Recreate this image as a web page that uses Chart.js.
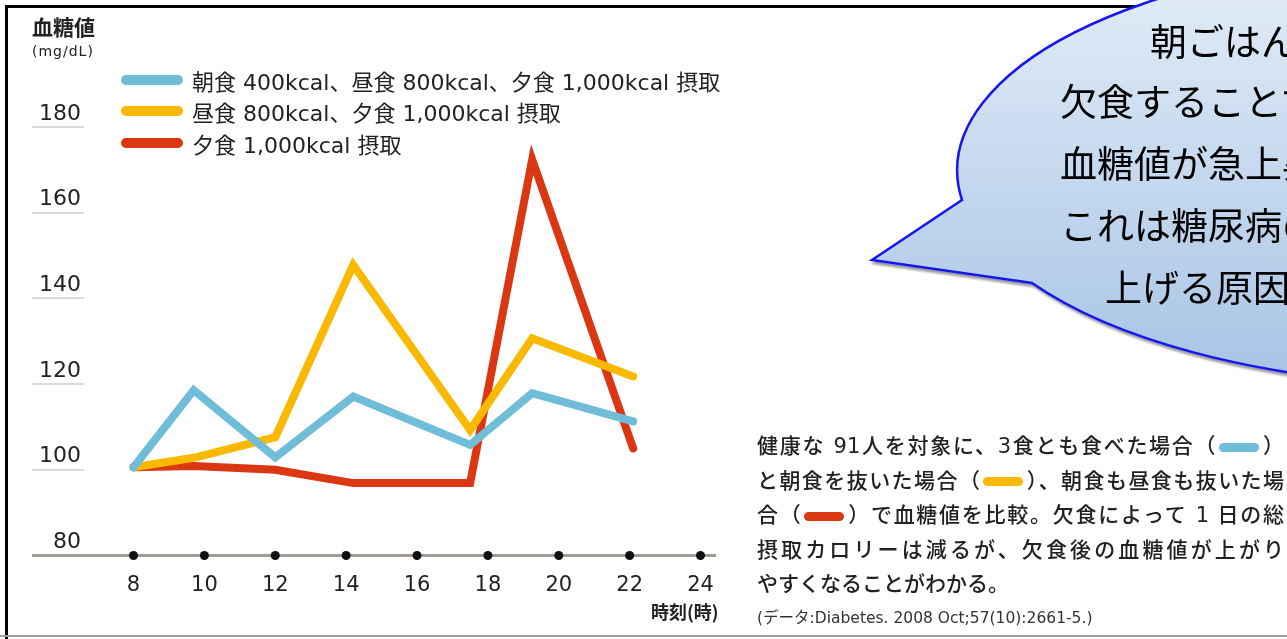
<!DOCTYPE html>
<html lang="ja">
<head>
<meta charset="utf-8">
<title>血糖値の推移</title>
<script src="https://cdn.jsdelivr.net/npm/chart.js@4.4.1/dist/chart.umd.min.js"></script>
<style>
    html, body { margin: 0; padding: 0; background: #fff; }
    body { width: 1287px; height: 639px; position: relative; overflow: hidden;
        font-family: 'DejaVu Sans', 'Noto Sans CJK JP', sans-serif; color: #222; }
    .frame { position: absolute; left: 5px; top: 5px; width: 1400px; height: 640px;
        border-left: 3px solid #000; border-top: 3px solid #000; }
    .bottom-line { position: absolute; left: 0; top: 635px; width: 1287px; height: 2px; background: #a0a0a0; }
    #chart { position: absolute; left: 0; top: 0; }
    .ytitle { position: absolute; left: 32px; top: 14px; font-size: 21px; line-height: 1.2; font-weight: bold; font-family: 'Noto Sans CJK JP', sans-serif; }
    .yunit { position: absolute; left: 32px; top: 43px; font-size: 14px; letter-spacing: 1px; }
    .xtitle { position: absolute; left: 651px; top: 598px; font-size: 18px; font-weight: bold; font-family: 'Noto Sans CJK JP', sans-serif; }
    #legend { position: absolute; left: 121px; top: 64px; }
    #legend .row { height: 31.5px; display: flex; align-items: center; font-size: 22px; white-space: nowrap; }
    #legend .sw { width: 62px; height: 10px; border-radius: 5px; margin-right: 9px; }
    .note { position: absolute; left: 757px; top: 429px; width: 527px; font-size: 21px; font-weight: 500; }
    .note .ln { height: 34.5px; line-height: 34.5px; white-space: nowrap; text-align: justify; text-align-last: justify; }
    .note .ln.last { text-align-last: left; }
    .note .pill { display: inline-block; width: 40px; height: 9px; border-radius: 5px; vertical-align: middle; margin: 0 2px; }
    .src { position: absolute; left: 757px; top: 605px; font-size: 15.5px; color: #333; white-space: nowrap; }
    svg.bubble { position: absolute; left: 0; top: 0; }
    .bt { position: absolute; font-family: 'Noto Sans CJK JP', sans-serif; font-size: 37px; color: #000; white-space: nowrap; line-height: 1; }
</style>
</head>
<body>
<div class="frame"></div>
<div class="bottom-line"></div>
<canvas id="chart" width="1287" height="639"></canvas>

<div class="ytitle">血糖値</div>
<div class="yunit">(mg/dL)</div>
<div class="xtitle">時刻(時)</div>
<div id="legend"></div>

<div class="note" id="note"></div>
<div class="src">(データ:Diabetes. 2008 Oct;57(10):2661-5.)</div>

<svg class="bubble" width="1287" height="639">
    <defs>
        <linearGradient id="bg" x1="0" y1="-45" x2="0" y2="385" gradientUnits="userSpaceOnUse">
            <stop offset="0" stop-color="#e6eef8"/>
            <stop offset="1" stop-color="#a6c4e5"/>
        </linearGradient>
        <filter id="sh" x="-10%" y="-10%" width="130%" height="130%">
            <feDropShadow dx="2" dy="3" stdDeviation="1" flood-color="#555" flood-opacity="0.6"/>
        </filter>
    </defs>
    <path d="M 962 200 L 872 260 L 1032 283 A 505 215 0 1 0 962 200 Z"
          fill="url(#bg)" stroke="#1414ee" stroke-width="2.5" filter="url(#sh)"/>
</svg>
<div class="bt" style="left:1150px; top:22px;">朝ごはんを</div>
<div class="bt" style="left:1060px; top:82px;">欠食することで</div>
<div class="bt" style="left:1060px; top:144px;">血糖値が急上昇</div>
<div class="bt" style="left:1060px; top:206px;">これは糖尿病の</div>
<div class="bt" style="left:1105px; top:268px;">上げる原因に</div>

<script>
// 時刻 (時) と血糖値 (mg/dL)
const hours = [8, 9.7, 12, 14.2, 17.5, 19.25, 22.1]
const threeMeals = [100.6, 118.6, 102.9, 117.1, 105.8, 117.9, 111.3]
const skipBreakfast = [100.6, 102.8, 107.6, 147.8, 109.3, 130.7, 121.8]
const dinnerOnly = [100.6, 100.9, 100.0, 96.9, 96.9, 172.4, 105.0]

const seriesNames = [
    '朝食 400kcal、昼食 800kcal、夕食 1,000kcal 摂取',
    '昼食 800kcal、夕食 1,000kcal 摂取',
    '夕食 1,000kcal 摂取',
]
const seriesColors = ['#70bdd9', '#f9b900', '#da3712']

const xTicks = [8, 10, 12, 14, 16, 18, 20, 22, 24]
const yTicks = [80, 100, 120, 140, 160, 180]

// ##### legend #####
const legend = document.getElementById('legend')
seriesNames.forEach((name, i) => {
    const row = document.createElement('div')
    row.className = 'row'
    row.innerHTML = `<div class="sw" style="background:${seriesColors[i]}"></div><span>${name}</span>`
    legend.appendChild(row)
})

// ##### note text #####
const pill = (i) => `<span class="pill" style="background:${seriesColors[i]}"></span>`
const noteLines = [
    `健康な 91人を対象に、3食とも食べた場合（${pill(0)}）`,
    `と朝食を抜いた場合（${pill(1)}）、朝食も昼食も抜いた場`,
    `合（${pill(2)}）で血糖値を比較。欠食によって 1 日の総`,
    `摂取カロリーは減るが、欠食後の血糖値が上がり`,
    `やすくなることがわかる。`,
]
const note = document.getElementById('note')
noteLines.forEach((txt, i) => {
    const d = document.createElement('div')
    d.className = 'ln' + (i === noteLines.length - 1 ? ' last' : '')
    d.innerHTML = txt
    note.appendChild(d)
})

// ##### chart #####
const toPoints = (values) => hours.map((h, i) => ({ x: h, y: values[i] }))
const seriesData = [threeMeals, skipBreakfast, dinnerOnly]

const datasets = seriesData.map((values, i) => ({
    label: seriesNames[i],
    data: toPoints(values),
    borderColor: seriesColors[i],
    borderWidth: 8,
    borderCapStyle: 'round',
    borderJoinStyle: 'miter',
    pointRadius: 0,
    fill: false,
    tension: 0,
}))

// axis dots
datasets.push({
    label: 'ticks',
    data: xTicks.map((h) => ({ x: h, y: yTicks[0] })),
    showLine: false,
    pointRadius: 4.5,
    pointBackgroundColor: '#111',
    pointBorderWidth: 0,
    clip: false,
})

const axisColor = '#a39b94'

new Chart(document.getElementById('chart').getContext('2d'), {
    type: 'line',
    data: { datasets: datasets },
    options: {
        responsive: false,
        animation: false,
        events: [],
        layout: { padding: { left: 0, right: 572, top: 127, bottom: 23.5 } },
        plugins: { legend: { display: false }, tooltip: { enabled: false } },
        scales: {
            x: {
                type: 'linear',
                min: 6.603,
                max: 24.409,
                afterBuildTicks: (scale) => {
                    scale.ticks = xTicks.map((v) => ({ value: v }))
                },
                afterFit: (scale) => {
                    scale.height = 60
                },
                grid: { display: false },
                border: { color: axisColor, width: 3 },
                ticks: {
                    padding: 9,
                    color: '#222',
                    font: { family: 'DejaVu Sans', size: 21 },
                    maxRotation: 0,
                },
            },
            y: {
                min: yTicks[0],
                max: yTicks[yTicks.length - 1],
                afterBuildTicks: (scale) => {
                    scale.ticks = yTicks.map((v) => ({ value: v }))
                },
                afterFit: (scale) => {
                    scale.width = 84
                },
                border: { display: false },
                grid: {
                    drawOnChartArea: false,
                    drawTicks: true,
                    tickLength: 52,
                    color: (c) => (c.tick && c.tick.value === 80 ? axisColor : '#dcd8d3'),
                    lineWidth: (c) => (c.tick && c.tick.value === 80 ? 3 : 2),
                },
                ticks: {
                    padding: -49,
                    color: '#222',
                    font: { family: 'DejaVu Sans', size: 22, lineHeight: 1.2 },
                    callback: (v) => [String(v), ''],
                },
            },
        },
    },
})
</script>
</body>
</html>
